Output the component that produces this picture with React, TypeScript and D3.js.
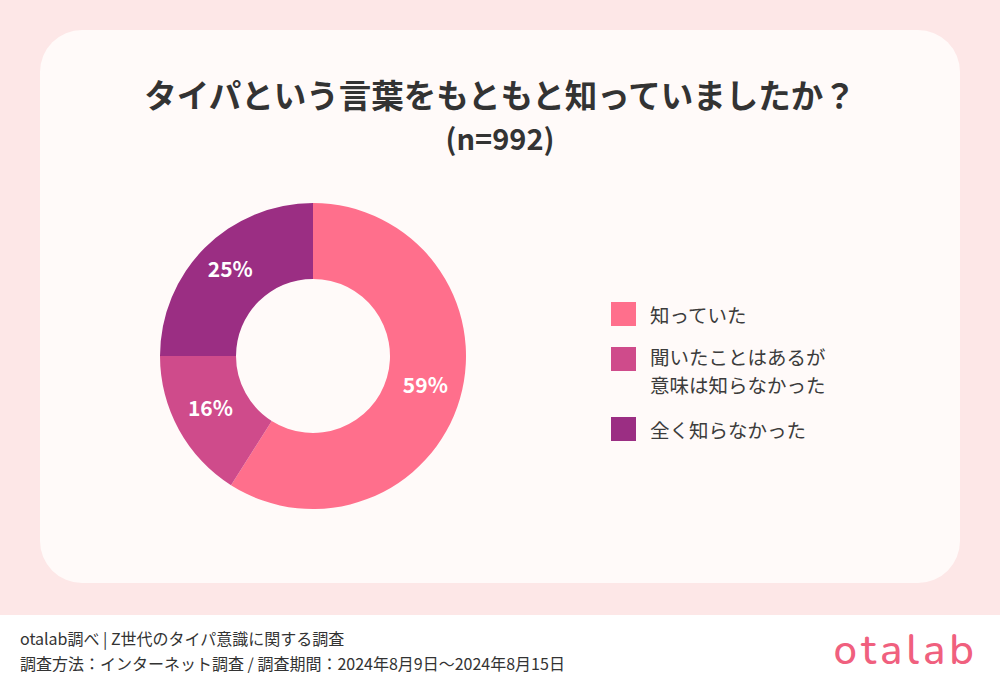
import React from "react";
import * as d3 from "d3";

const categories = ["知っていた", "聞いたことはあるが\n意味は知らなかった", "全く知らなかった"];
const values = [59, 16, 25];
const colors = ["#ff6f8c", "#cf4b8b", "#9b2e83"];
const title = "タイパという言葉をもともと知っていましたか？";
const subtitle = "(n=992)";
const footer1 = "otalab調べ | Z世代のタイパ意識に関する調査";
const footer2 = "調査方法：インターネット調査 / 調査期間：2024年8月9日〜2024年8月15日";

const W = 1000;
const H = 678;
const FONT = "'Noto Sans CJK JP', 'Noto Sans', sans-serif";

export default function App() {
  const cx = 313;
  const cy = 356;
  const outerR = 153;
  const innerR = 77;
  const pie = d3.pie<number>().sort(null).value((d) => d);
  const arcs = pie(values);
  const arc = d3.arc<d3.PieArcDatum<number>>().innerRadius(innerR).outerRadius(outerR);
  const labelArc = d3.arc<d3.PieArcDatum<number>>().innerRadius(117).outerRadius(117);

  const legendY = [314, 356, 429];

  return (
    <svg width={W} height={H} style={{ position: "absolute", left: 0, top: 0 }} fontFamily={FONT}>
      <rect x={0} y={0} width={W} height={H} fill="#ffffff" />
      <rect x={0} y={0} width={W} height={615} fill="#fde7e7" />
      <rect x={40} y={30} width={920} height={553} rx={42} ry={42} fill="#fffaf9" />
      <text x={500} y={108} textAnchor="middle" fontSize={32.5} fontWeight={700} fill="#333333">
        {title}
      </text>
      <text x={500} y={150} textAnchor="middle" fontSize={29} fontWeight={700} fill="#333333">
        {subtitle}
      </text>
      <g transform={`translate(${cx},${cy})`}>
        {arcs.map((a, i) => (
          <path key={i} d={arc(a) || ""} fill={colors[i]} />
        ))}
        {arcs.map((a, i) => {
          const [x, y] = labelArc.centroid(a);
          return (
            <text
              key={"l" + i}
              x={x}
              y={y - 5}
              textAnchor="middle"
              dominantBaseline="central"
              fontSize={21}
              fontWeight={700}
              fill="#ffffff"
            >
              {values[i]}%
            </text>
          );
        })}
      </g>
      {categories.map((c, i) => {
        const lines = c.split("\n");
        const y0 = legendY[i];
        return (
          <g key={"lg" + i}>
            <rect x={611} y={(i === 1 ? y0 + 3 : y0) - 12} width={25} height={24} fill={colors[i]} />
            {lines.map((ln, j) => (
              <text
                key={j}
                x={650}
                y={y0 + j * 28}
                dominantBaseline="central"
                fontSize={19.5}
                fill="#3c3c3c"
              >
                {ln}
              </text>
            ))}
          </g>
        );
      })}
      <text x={20} y={645} fontSize={16} fill="#333333">
        {footer1}
      </text>
      <text x={20} y={670} fontSize={16} fill="#333333">
        {footer2}
      </text>
      <text
        x={978}
        y={664}
        textAnchor="end"
        fontSize={42}
        fontWeight={500}
        fill="#f0607e"
        fontFamily="'Nunito', 'Noto Sans', sans-serif"
        letterSpacing={4}
      >
        otalab
      </text>
    </svg>
  );
}
